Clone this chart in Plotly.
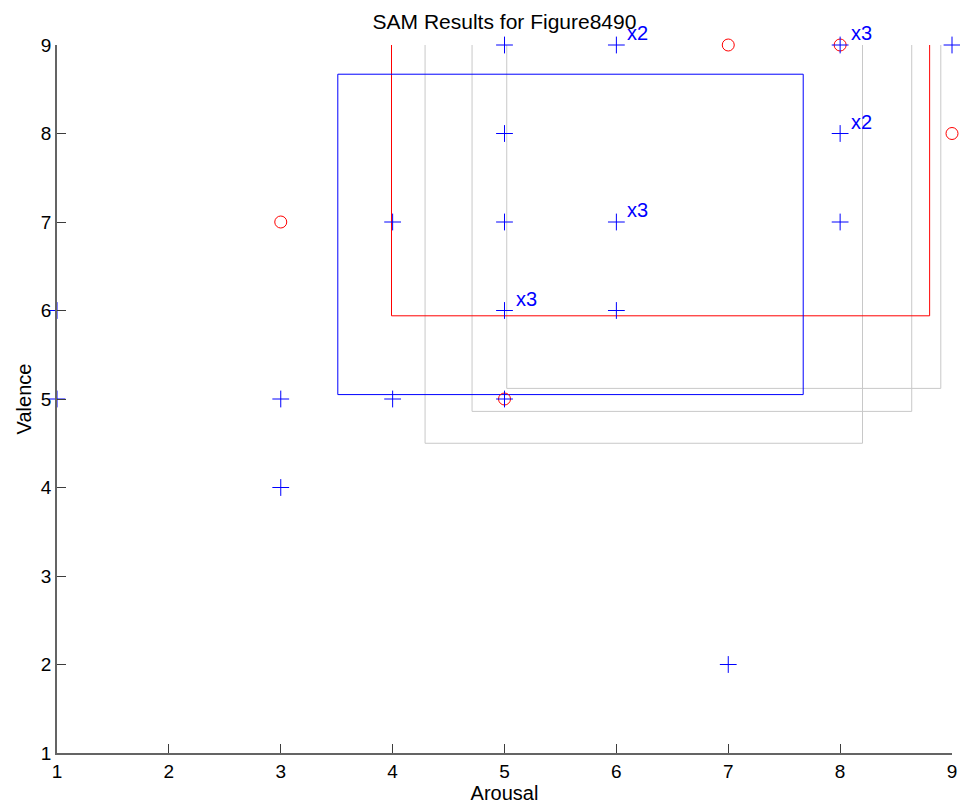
import plotly.graph_objects as go

# Individual ratings (blue +)
rating_arousal = [5, 6, 8, 9, 5, 8, 4, 5, 6, 8, 1, 5, 6, 1, 3, 4, 5, 3, 7]
rating_valence = [9, 9, 9, 9, 8, 8, 7, 7, 7, 7, 6, 6, 6, 5, 5, 5, 5, 4, 2]
rating_counts  = [1, 2, 3, 1, 1, 2, 1, 1, 3, 1, 1, 3, 1, 1, 1, 1, 1, 1, 1]

# Red circles
circle_arousal = [3, 7, 8, 9, 5]
circle_valence = [7, 9, 9, 8, 5]

# Rectangles: left, right, bottom, top
blue_rect = [3.51, 7.67, 5.05, 8.67]
red_rect = [3.99, 8.80, 5.94, 9.6]
gray_rects = [
    [4.29, 8.20, 4.50, 9.6],
    [4.71, 8.64, 4.86, 9.6],
    [5.02, 8.90, 5.12, 9.6],
]

x_ticks = [1, 2, 3, 4, 5, 6, 7, 8, 9]
y_ticks = [1, 2, 3, 4, 5, 6, 7, 8, 9]

FONT = "Liberation Sans, Arial, sans-serif"
BLUE = "rgb(0,0,255)"

W, H = 960, 809

fig = go.Figure()

def rect_trace(r, color):
    l, rr, b, t = r
    return go.Scatter(x=[l, rr, rr, l, l], y=[b, b, t, t, b], mode="lines",
                      line=dict(color=color, width=1), hoverinfo="skip",
                      showlegend=False)

for g in gray_rects:
    fig.add_trace(rect_trace(g, "rgb(200,200,200)"))
fig.add_trace(rect_trace(red_rect, "rgb(255,0,0)"))
fig.add_trace(rect_trace(blue_rect, BLUE))

fig.add_trace(go.Scatter(x=circle_arousal, y=circle_valence, mode="markers",
                         marker=dict(symbol="circle-open", size=12,
                                     color="rgb(255,0,0)",
                                     line=dict(width=1, color="rgb(255,0,0)")),
                         cliponaxis=False, showlegend=False))
fig.add_trace(go.Scatter(x=rating_arousal, y=rating_valence, mode="markers",
                         marker=dict(symbol="cross-thin", size=12,
                                     color=[BLUE] * len(rating_arousal),
                                     line=dict(width=1, color=[BLUE] * len(rating_arousal))),
                         cliponaxis=False, showlegend=False))

for xa, ya, c in zip(rating_arousal, rating_valence, rating_counts):
    if c > 1:
        fig.add_annotation(x=xa, y=ya, text=f"x{c}", showarrow=False,
                           xanchor="left", yanchor="middle", xshift=9, yshift=12,
                           font=dict(family=FONT, size=20, color=BLUE))

fig.update_layout(
    width=W, height=H,
    margin=dict(l=57, r=8, t=45, b=56, pad=0),
    paper_bgcolor="white", plot_bgcolor="white",
    title=dict(text="SAM Results for Figure8490", x=0.5, xref="paper",
               xanchor="center",
               y=1 - 22 / H, yref="container", yanchor="middle",
               font=dict(family=FONT, size=21, color="black")),
    font=dict(family=FONT, size=19, color="black"),
)
fig.update_xaxes(range=[1, 9], tickvals=x_ticks, ticks="inside", ticklen=9,
                 tickcolor="rgb(60,60,60)", showline=True, linecolor="rgb(100,100,100)",
                 linewidth=1.5, showgrid=False, zeroline=False, automargin=False,
                 title=dict(text="Arousal", standoff=5, font=dict(size=20)),
                 tickfont=dict(size=19))
fig.update_yaxes(range=[1, 9], tickvals=y_ticks, ticks="inside", ticklen=9,
                 tickcolor="rgb(60,60,60)", showline=True, linecolor="rgb(100,100,100)",
                 linewidth=1.5, showgrid=False, zeroline=False, automargin=False,
                 title=dict(text="Valence", standoff=4, font=dict(size=20)),
                 tickfont=dict(size=19))

fig.write_html("out.html",
               config=dict(displayModeBar=False),
               post_script="document.body.style.margin='0';document.body.style.overflow='hidden';")
